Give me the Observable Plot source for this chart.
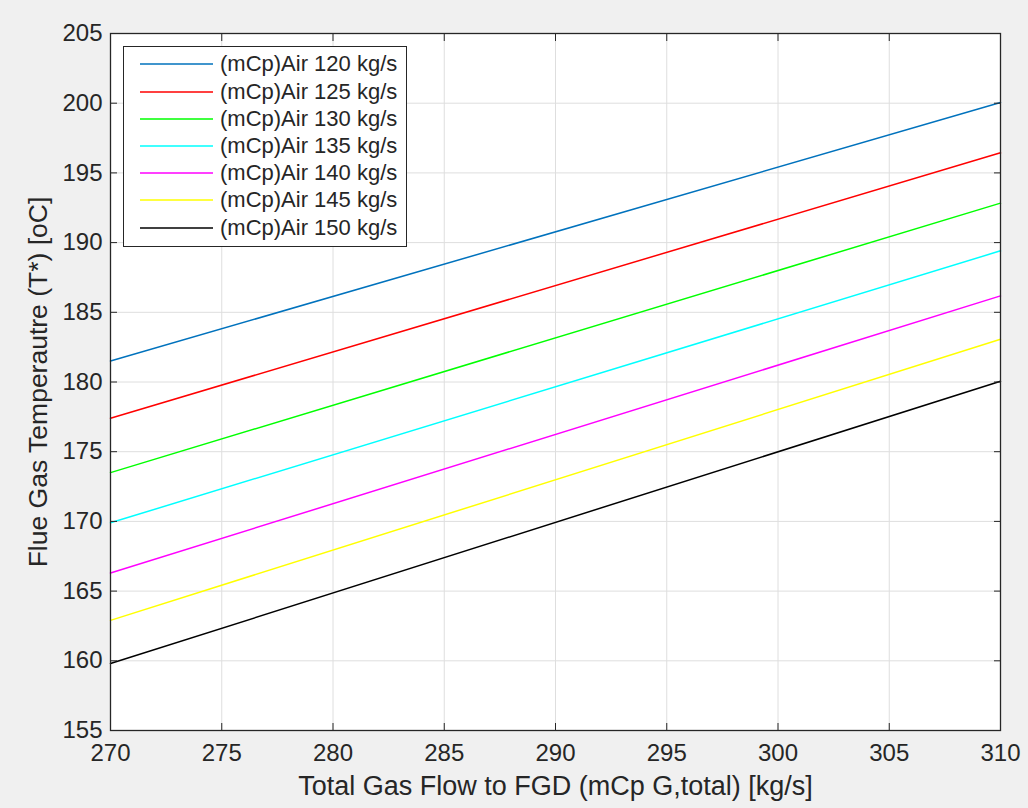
<!DOCTYPE html>
<html>
<head>
<meta charset="utf-8">
<script src="https://cdn.jsdelivr.net/npm/d3@7"></script>
<script src="https://cdn.jsdelivr.net/npm/@observablehq/plot@0.6"></script>
<style>
  html, body { margin: 0; padding: 0; background: #f0f0f0; }
  #wrap { position: relative; width: 1028px; height: 808px; }
  #wrap > svg { position: absolute; left: 0; top: 0; }
  .legend {
    position: absolute; left: 123px; top: 46px; width: 284px; height: 201px;
    box-sizing: border-box; border: 1px solid #262626; background: #fff;
    font: 22px "Liberation Sans", Arial, sans-serif; color: #262626;
  }
  .legend .row { position: absolute; left: 0; height: 24px; display: flex; align-items: center; white-space: nowrap; }
  .legend .row svg { display: block; flex: none; }
</style>
</head>
<body>
<div id="wrap"></div>
<script>
// Total gas flow to FGD [kg/s] (end points of each straight line)
const gasFlow = [270, 310];

// Flue gas temperature [oC] for each air-side heat capacity flow
const air120 = [181.5, 200.05];
const air125 = [177.4, 196.44];
const air130 = [173.5, 192.83];
const air135 = [169.9, 189.41];
const air140 = [166.3, 186.18];
const air145 = [162.9, 183.07];
const air150 = [159.8, 180.06];

const seriesNames = [
  "(mCp)Air 120 kg/s", "(mCp)Air 125 kg/s", "(mCp)Air 130 kg/s", "(mCp)Air 135 kg/s",
  "(mCp)Air 140 kg/s", "(mCp)Air 145 kg/s", "(mCp)Air 150 kg/s"
];
const seriesValues = [air120, air125, air130, air135, air140, air145, air150];
const seriesColors = ["#0072BD", "#FF0000", "#00FF00", "#00FFFF", "#FF00FF", "#FFFF00", "#000000"];

const xTicks = [270, 275, 280, 285, 290, 295, 300, 305, 310];
const yTicks = [155, 160, 165, 170, 175, 180, 185, 190, 195, 200, 205];

const xTitle = "Total Gas Flow to FGD (mCp G,total) [kg/s]";
const yTitle = "Flue Gas Temperautre (T*) [oC]";

// long table: one row per point
const rows = seriesNames.flatMap((name, i) =>
  gasFlow.map((g, j) => ({ series: name, flow: g, temp: seriesValues[i][j] }))
);

const font = '"Liberation Sans", Arial, sans-serif';
const ink = "#262626";

const chart = Plot.plot({
  width: 1028,
  height: 808,
  marginLeft: 110,
  marginRight: 28,
  marginTop: 33,
  marginBottom: 78,
  style: { background: "transparent", fontFamily: font, color: ink, overflow: "visible" },
  x: { domain: [270, 310], label: null },
  y: { domain: [155, 205], label: null },
  color: { domain: seriesNames, range: seriesColors },
  marks: [
    Plot.frame({ fill: "white", stroke: null }),
    Plot.gridX(xTicks, { stroke: "#dedede", strokeOpacity: 1 }),
    Plot.gridY(yTicks, { stroke: "#dedede", strokeOpacity: 1 }),
    Plot.line(rows, { x: "flow", y: "temp", z: "series", stroke: "series", strokeWidth: 1.5 }),
    // inward tick marks on all four sides
    Plot.axisX(xTicks, { anchor: "bottom", tickSize: -7, text: null, stroke: ink, label: null }),
    Plot.axisX(xTicks, { anchor: "top", tickSize: -7, text: null, stroke: ink, label: null }),
    Plot.axisY(yTicks, { anchor: "left", tickSize: -7, text: null, stroke: ink, label: null }),
    Plot.axisY(yTicks, { anchor: "right", tickSize: -7, text: null, stroke: ink, label: null }),
    // tick labels
    Plot.axisX(xTicks, { anchor: "bottom", tickSize: 0, tickPadding: 13, fontSize: 24, fill: ink, label: null }),
    Plot.axisY(yTicks, { anchor: "left", tickSize: 0, tickPadding: 8, fontSize: 24, fill: ink, label: null }),
    // axis titles
    Plot.axisX([], { anchor: "bottom", label: xTitle, labelAnchor: "center", labelArrow: "none", labelOffset: 64, fontSize: 27, fill: ink }),
    Plot.axisY([], { anchor: "left", label: yTitle, labelAnchor: "center", labelArrow: "none", labelOffset: 82, fontSize: 26.5, fill: ink }),
    Plot.frame({ stroke: ink, strokeWidth: 1.3 })
  ]
});

const wrap = document.getElementById("wrap");
wrap.appendChild(chart);

// legend box in the upper-left corner of the axes
const legend = document.createElement("div");
legend.className = "legend";
seriesNames.forEach((name, i) => {
  const row = document.createElement("div");
  row.className = "row";
  row.style.top = (5.3 + i * 27.2) + "px";
  row.innerHTML =
    `<svg width="96" height="24"><line x1="16" x2="89" y1="12" y2="12" stroke="${seriesColors[i]}" stroke-width="1.6"/></svg>` +
    `<span>${name}</span>`;
  legend.appendChild(row);
});
wrap.appendChild(legend);
</script>
</body>
</html>
